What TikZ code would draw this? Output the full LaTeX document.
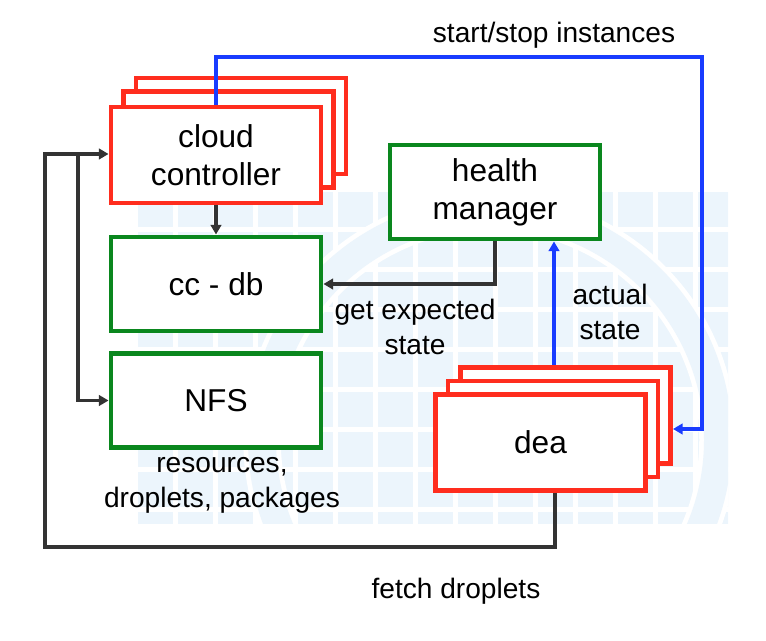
\documentclass[tikz,border=0pt]{standalone}
\usepackage{fontspec}
\setmainfont{Liberation Sans}
\usetikzlibrary{arrows.meta}
\definecolor{boxred}{RGB}{255,45,30}
\definecolor{boxgreen}{RGB}{10,135,30}
\definecolor{linkblue}{RGB}{25,60,255}
\definecolor{linkgray}{RGB}{51,51,51}
\definecolor{wmblue}{RGB}{236,245,252}
\begin{document}
\begin{tikzpicture}[x=0.02cm,y=-0.02cm,
    redbox/.style={draw=boxred,line width=2.8pt,fill=white,minimum width=4.2cm,minimum height=1.92cm,
      inner sep=0pt,align=center,font=\fontsize{18}{21.5}\selectfont},
    greenbox/.style={redbox,draw=boxgreen,minimum height=1.88cm},
    lbl/.style={align=center,font=\fontsize{16}{20}\selectfont,inner sep=0pt},
    arr/.style={draw=linkgray,line width=2.1pt,-{Triangle[length=5.5pt,width=6pt]}},
    bluearr/.style={arr,draw=linkblue}]
    \useasboundingbox (0,0) rectangle (766,641);
    % faint logo in the back
    \begin{scope}
        \clip (135,190) rectangle (728,523);
        \foreach \i in {0,...,14}
            \foreach \j in {0,...,8}
                \fill[wmblue] (138+40*\i,192+40*\j) rectangle +(35,35);
        \draw[white,line width=0.75cm] (490,440) circle (228);
        \draw[wmblue,line width=0.56cm] (490,440) circle (228);
    \end{scope}
    \node[redbox] (ccB) at (241,126) {};
    \node[redbox] (ccM) at (228.5,139.5) {};
    \node[redbox] (cc) at (216,155) {cloud\\controller};
    \node[greenbox] (ccdb) at (216,284) {cc - db};
    \node[greenbox] (nfs) at (216,400.5) {NFS};
    \node[greenbox] (hm) at (495,192) {health\\manager};
    \node[redbox] (deaB) at (565.5,415.5) {};
    \node[redbox] (deaM) at (553,429) {};
    \node[redbox] (dea) at (540.5,442.5) {dea};
    \node[lbl] (sslbl) at (554,35) {start/stop instances};
    \node[lbl] (gelbl) at (415,327) {get expected\\state};
    \node[lbl] (aslbl) at (610,312) {actual\\state};
    \node[lbl] (nfslbl) at (222,485) {resources,\\droplets, packages};
    \node[lbl] (fdlbl) at (456,591) {fetch droplets};
    \coordinate (ssL) at (216,57);
    \coordinate (ssR) at (702,57);
    \coordinate (ssD) at (702,429);
    \coordinate (asx) at (554,0);
    \coordinate (fdR) at (555,547);
    \coordinate (fdL) at (45,547);
    \coordinate (split) at (78,154);
    \draw[arr] (cc) -- (ccdb);
    \draw[arr] (hm.south) |- (ccdb.east);
    \draw[bluearr] (deaB.north -| asx) -- (hm.south -| asx);
    \draw[bluearr] (cc.north) -- (ssL) -- (ssR) -- (ssD) -- (ssD -| deaB.east);
    \draw[arr] (dea.south -| fdR) -- (fdR) -- (fdL) |- (split -| cc.west);
    \draw[arr] (split) |- (nfs.west);
\end{tikzpicture}
\end{document}
